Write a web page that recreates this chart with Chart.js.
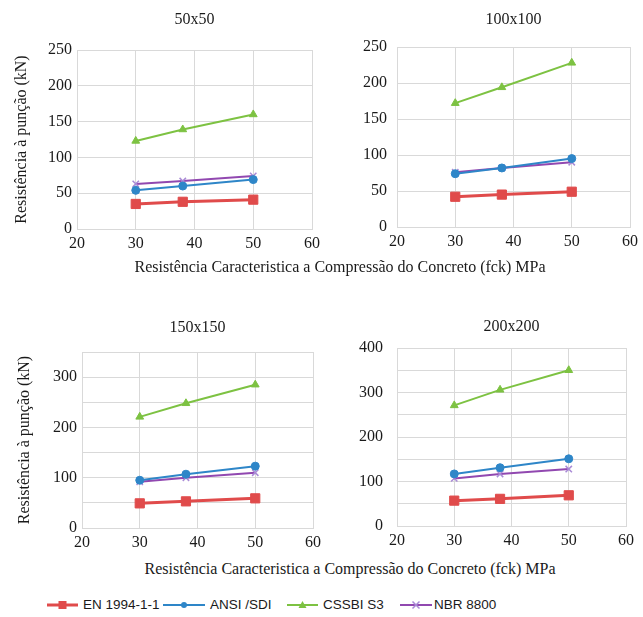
<!DOCTYPE html>
<html>
<head>
<meta charset="utf-8">
<script src="https://cdn.jsdelivr.net/npm/chart.js@4.4.1/dist/chart.umd.min.js"></script>
<style>
  body { margin: 0; background: #fff; }
  #wrap { position: relative; width: 643px; height: 617px; overflow: hidden; }
  canvas { position: absolute; }
  .xt { position: absolute; font: 16px "Liberation Serif", serif; color: #1a1a1a; white-space: nowrap; transform: translate(-50%, -50%); }
  .lg { position: absolute; top: 596px; height: 18px; font: 13.5px "Liberation Sans", Arial, sans-serif; color: #1a1a1a; line-height: 18px; white-space: nowrap; }
  .lg svg { position: absolute; top: 0; }
</style>
</head>
<body>
<div id="wrap">
  <canvas id="c1" width="330" height="260" style="left:0;top:0"></canvas>
  <canvas id="c2" width="313" height="260" style="left:330px;top:0"></canvas>
  <canvas id="c3" width="330" height="270" style="left:0;top:290px"></canvas>
  <canvas id="c4" width="313" height="270" style="left:330px;top:290px"></canvas>
  <div class="xt" style="left:340px;top:267px">Resistência Caracteristica a Compressão do Concreto (fck) MPa</div>
  <div class="xt" style="left:350px;top:569px">Resistência Caracteristica a Compressão do Concreto (fck) MPa</div>
  <div id="legend"></div>
</div>
<script>
const fck = [30, 38, 50]
const seriesNames = ['EN 1994-1-1', 'ANSI /SDI', 'CSSBI S3', 'NBR 8800']

// 50x50
const en50 = [35, 38, 41]
const ansi50 = [54, 60, 69]
const cssbi50 = [123, 139, 160]
const nbr50 = [63, 67, 74]
// 100x100
const en100 = [42, 45, 49]
const ansi100 = [74, 82, 95]
const cssbi100 = [172, 194, 228]
const nbr100 = [76, 82, 90]
// 150x150
const en150 = [49, 53, 59]
const ansi150 = [95, 107, 123]
const cssbi150 = [221, 248, 285]
const nbr150 = [92, 100, 110]
// 200x200
const en200 = [57, 61, 69]
const ansi200 = [117, 131, 151]
const cssbi200 = [271, 306, 350]
const nbr200 = [107, 117, 128]

const styles = [
  { color: '#E04B4B', width: 3, point: 'rect', radius: 6.5, pointBorder: '#E04B4B' },
  { color: '#2E86C8', width: 2, point: 'circle', radius: 4, pointBorder: '#2E86C8' },
  { color: '#7DC242', width: 2, point: 'triangle', radius: 4.5, pointBorder: '#7DC242' },
  { color: '#9148B0', width: 2, point: 'crossRot', radius: 4.5, pointBorder: '#A98AD6' },
]

const serif = '"Liberation Serif", "Times New Roman", serif'
const grid = '#d9d9d9'
const txt = '#1a1a1a'

function makeChart(id, title, values, yMax, labelStep, g) {
  const datasets = values.map((vals, i) => ({
    label: seriesNames[i],
    data: fck.map((x, j) => ({ x: x, y: vals[j] })),
    borderColor: styles[i].color,
    backgroundColor: styles[i].color,
    borderWidth: styles[i].width,
    pointStyle: styles[i].point,
    pointRadius: styles[i].radius,
    pointBackgroundColor: styles[i].color,
    pointBorderColor: styles[i].pointBorder,
    pointBorderWidth: i === 3 ? 1.5 : 1,
    tension: 0,
  }))
  return new Chart(document.getElementById(id), {
    type: 'line',
    data: { datasets },
    options: {
      responsive: false,
      animation: false,
      devicePixelRatio: 1,
      layout: { padding: { left: 0, right: g.right, top: 0, bottom: 0 } },
      plugins: {
        legend: { display: false },
        tooltip: { enabled: false },
        title: {
          display: true, text: title, color: txt, fullSize: false,
          font: { family: serif, size: 16, weight: 'normal' },
          padding: { top: g.tTop, bottom: g.tBottom },
        },
      },
      scales: {
        x: {
          type: 'linear', min: 20, max: 60,
          ticks: { stepSize: 10, color: txt, padding: 5, font: { family: serif, size: 16 } },
          grid: { color: grid, drawTicks: false },
          border: { color: grid },
          afterFit: a => { a.height = g.xh },
        },
        y: {
          min: 0, max: yMax,
          ticks: {
            stepSize: labelStep / 2, color: txt, padding: g.yPad,
            font: { family: serif, size: 16 },
            callback: v => (v % labelStep === 0 ? v : ''),
          },
          grid: { color: grid, drawTicks: false },
          border: { color: grid },
          title: {
            display: g.yTitle, text: 'Resistência à punção (kN)', color: txt,
            font: { family: serif, size: 16 }, padding: { top: g.yTitlePad, bottom: 0 },
          },
          afterFit: a => { a.width = g.yw },
        },
      },
    },
  })
}

makeChart('c1', '50x50', [en50, ansi50, cssbi50, nbr50], 250, 50,
  { right: 18, tTop: 10.4, tBottom: 20.4, xh: 31, yw: 77, yPad: 5, yTitle: true, yTitlePad: 12.4 })
makeChart('c2', '100x100', [en100, ansi100, cssbi100, nbr100], 250, 50,
  { right: 12, tTop: 10.4, tBottom: 17.4, xh: 33, yw: 67, yPad: 10, yTitle: false, yTitlePad: 0 })
makeChart('c3', '150x150', [en150, ansi150, cssbi150, nbr150], 350, 100,
  { right: 17, tTop: 28.4, tBottom: 14.4, xh: 32, yw: 82, yPad: 5, yTitle: true, yTitlePad: 15.4 })
makeChart('c4', '200x200', [en200, ansi200, cssbi200, nbr200], 400, 100,
  { right: 17, tTop: 27.4, tBottom: 11.4, xh: 34, yw: 67, yPad: 14, yTitle: false, yTitlePad: 0 })

// legend
const legendPos = [
  { line: [47, 78], text: 83 },
  { line: [163, 205], text: 210 },
  { line: [287, 318], text: 323 },
  { line: [400, 432], text: 434 },
]
function markerSvg(s, w) {
  const cx = w / 2, cy = 9
  let m = ''
  if (s.point === 'rect') m = `<rect x="${cx - 4}" y="${cy - 4}" width="8" height="8" fill="${s.color}"/>`
  if (s.point === 'circle') m = `<circle cx="${cx}" cy="${cy}" r="3" fill="${s.color}"/>`
  if (s.point === 'triangle') m = `<polygon points="${cx},${cy - 4} ${cx + 4},${cy + 3} ${cx - 4},${cy + 3}" fill="${s.color}"/>`
  if (s.point === 'crossRot') m = `<path d="M${cx - 3.5} ${cy - 3.5}L${cx + 3.5} ${cy + 3.5}M${cx + 3.5} ${cy - 3.5}L${cx - 3.5} ${cy + 3.5}" stroke="${s.pointBorder}" stroke-width="1.5"/>`
  return `<svg width="${w}" height="18"><line x1="0" y1="${cy}" x2="${w}" y2="${cy}" stroke="${s.color}" stroke-width="${s.width}"/>${m}</svg>`
}
const lg = document.getElementById('legend')
seriesNames.forEach((name, i) => {
  const p = legendPos[i]
  const w = p.line[1] - p.line[0]
  const d1 = document.createElement('div')
  d1.className = 'lg'
  d1.style.left = p.line[0] + 'px'
  d1.innerHTML = markerSvg(styles[i], w)
  lg.appendChild(d1)
  const d2 = document.createElement('div')
  d2.className = 'lg'
  d2.style.left = p.text + 'px'
  d2.textContent = name
  lg.appendChild(d2)
})
</script>
</body>
</html>
